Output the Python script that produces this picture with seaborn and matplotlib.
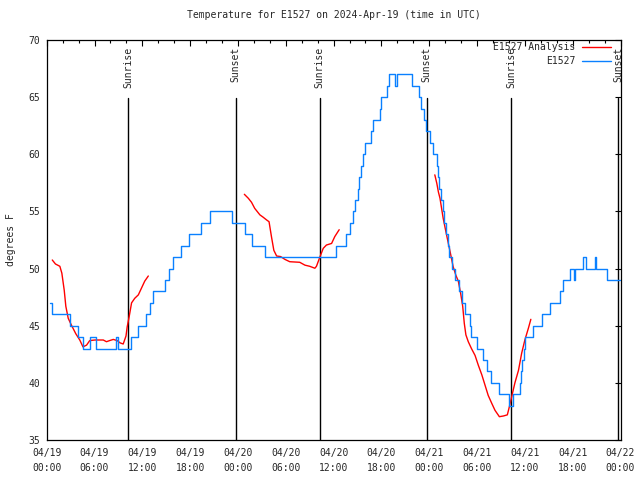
import pandas as pd
import matplotlib
matplotlib.use('Agg')
import matplotlib.pyplot as plt
import seaborn as sns
from matplotlib.lines import Line2D
from matplotlib.ticker import MultipleLocator

sns.set_style("white")
plt.rcParams['font.family'] = ['DejaVu Sans Mono']

TITLE = 'Temperature for E1527 on 2024-Apr-19 (time in UTC)'

# hours since 04/19 00:00 UTC, observed temperature (step changes)
obs_hours = [0.4, 0.65, 2.95, 3.95, 4.6, 5.45, 6.2, 8.7, 8.95, 10.6, 11.5, 12.4, 12.9, 13.4,
             14.9, 15.3, 15.8, 16.8, 17.8, 19.3, 20.5, 23.3, 24.9, 25.7, 27.4, 36.3, 37.55,
             38.1, 38.4, 38.7, 39.0, 39.2, 39.5, 39.7, 39.95, 40.7, 41.0, 41.8, 42.0, 42.7,
             43.0, 43.75, 43.95, 45.85, 46.75, 47.0, 47.3, 47.6, 48.1, 48.5, 48.95, 49.15,
             49.25, 49.45, 49.7, 49.85, 50.1, 50.4, 50.5, 50.8, 51.25, 51.75, 52.1, 52.5,
             53.1, 53.25, 54.0, 54.8, 55.2, 55.8, 56.8, 58.0, 58.45, 59.45, 59.55, 59.7,
             59.85, 60.0, 61.05, 62.2, 63.2, 64.45, 64.8, 65.7, 66.15, 66.35, 67.3, 67.7,
             68.75, 68.95, 70.3, 71.9]
obs_temps = [47, 46, 45, 44, 43, 44, 43, 44, 43, 44, 45, 46, 47, 48,
             49, 50, 51, 52, 53, 54, 55, 54, 53, 52, 51, 52, 53,
             54, 55, 56, 57, 58, 59, 60, 61, 62, 63, 64, 65, 66,
             67, 66, 67, 66, 65, 64, 63, 62, 61, 60, 59, 58,
             57, 56, 55, 54, 53, 52, 51, 50, 49, 48, 47, 46,
             45, 44, 43, 42, 41, 40, 39, 38, 39, 40, 41, 42,
             43, 44, 45, 46, 47, 48, 49, 50, 49, 50, 51, 50,
             51, 50, 49, 49]

# analysis runs (three separate segments)
ana1_hours = [0.7, 1.1, 1.65, 1.9, 2.2, 2.4, 2.7, 3.1, 3.65, 4.15, 4.55, 5.0, 5.4, 6.05,
              7.1, 7.5, 7.9, 8.35, 8.85, 9.2, 9.6, 9.95, 10.1, 10.35, 10.65, 11.05, 11.5,
              11.9, 12.3, 12.75]
ana1_temps = [50.75, 50.4, 50.2, 49.6, 48.1, 46.7, 45.65, 45.05, 44.3, 43.75, 43.15, 43.3,
              43.7, 43.75, 43.75, 43.6, 43.7, 43.8, 43.7, 43.5, 43.4, 44.1, 44.9, 45.8,
              47.0, 47.4, 47.7, 48.3, 48.9, 49.35]
ana2_hours = [24.8, 25.3, 25.7, 26.1, 26.75, 27.15, 27.6, 27.9, 28.2, 28.5, 28.85, 29.35,
              29.9, 30.5, 31.75, 32.4, 33.0, 33.65, 33.85, 34.3, 34.7, 35.1, 35.75, 36.15,
              36.7]
ana2_temps = [56.5, 56.15, 55.8, 55.27, 54.7, 54.5, 54.25, 54.1, 52.8, 51.6, 51.1, 51.05,
              50.8, 50.6, 50.55, 50.3, 50.2, 50.03, 50.2, 51.05, 51.77, 52.06, 52.2, 52.8,
              53.4]
ana3_hours = [48.7, 48.95, 49.15, 49.35, 49.55, 49.75, 50.1, 50.4, 50.7, 51.0, 51.35, 51.65,
              51.95, 52.2, 52.4, 52.6, 52.9, 53.3, 53.75, 54.15, 54.6, 55.0, 55.4, 55.85,
              56.25, 56.8, 57.3, 57.8, 58.05, 58.35, 58.75, 59.2, 59.6, 60.0, 60.45, 60.75]
ana3_temps = [58.2, 57.46, 56.7, 56.15, 55.27, 54.4, 53.2, 52.2, 51.2, 50.17, 49.4, 48.9,
              47.8, 46.7, 45.2, 44.2, 43.6, 43.0, 42.4, 41.56, 40.7, 39.8, 38.9, 38.2,
              37.6, 37.04, 37.1, 37.2, 37.9, 38.8, 40.0, 41.1, 42.6, 43.75, 44.8, 45.56]

sun_hours = [10.25, 23.7, 34.25, 47.7, 58.25, 71.7]
sun_labels = ['Sunrise', 'Sunset', 'Sunrise', 'Sunset', 'Sunrise', 'Sunset']

xtick_hours = list(range(0, 73, 6))
xtick_labels = ['04/19\n00:00', '04/19\n06:00', '04/19\n12:00', '04/19\n18:00',
                '04/20\n00:00', '04/20\n06:00', '04/20\n12:00', '04/20\n18:00',
                '04/21\n00:00', '04/21\n06:00', '04/21\n12:00', '04/21\n18:00',
                '04/22\n00:00']

RED = '#ff0000'
BLUE = '#0a80ff'
FS = 7

obs = pd.DataFrame({'hour': obs_hours, 'temp': obs_temps})
ana = pd.concat([
    pd.DataFrame({'hour': ana1_hours, 'temp': ana1_temps, 'seg': 1}),
    pd.DataFrame({'hour': ana2_hours, 'temp': ana2_temps, 'seg': 2}),
    pd.DataFrame({'hour': ana3_hours, 'temp': ana3_temps, 'seg': 3}),
])

fig = plt.figure(figsize=(6.4, 4.8), dpi=100)
ax = fig.add_axes([46.7 / 640, 40 / 480, (620.5 - 46.7) / 640, 400 / 480])

# sunrise / sunset markers
for h, lab in zip(sun_hours, sun_labels):
    ax.axvline(h, ymin=0, ymax=(440 - 98) / 400, color='black', lw=1.0, zorder=1)
    ax.text(h, (440 - 47) / 400, lab, rotation=90, ha='center', va='top',
            fontsize=FS, transform=ax.get_xaxis_transform())

sns.lineplot(data=ana, x='hour', y='temp', units='seg', estimator=None, sort=False,
             color=RED, lw=1.0, ax=ax, zorder=2)
sns.lineplot(data=obs, x='hour', y='temp', estimator=None, sort=False,
             drawstyle='steps-post', color=BLUE, lw=1.0, ax=ax, zorder=3)

ax.set_xlim(0, 72)
ax.set_ylim(35, 70)
ax.set_xticks(xtick_hours)
ax.set_xticklabels(xtick_labels, fontsize=FS, linespacing=1.6)
ax.xaxis.set_minor_locator(MultipleLocator(2))
ax.yaxis.set_major_locator(MultipleLocator(5))
ax.tick_params(axis='both', which='both', direction='in', top=True, right=True,
               labelsize=FS, color='black', width=0.8)
ax.tick_params(axis='both', which='major', length=4.5)
ax.tick_params(axis='both', which='minor', length=2.5)
ax.tick_params(axis='x', which='major', pad=6)
ax.tick_params(axis='y', which='major', pad=5)
for s in ax.spines.values():
    s.set_color('black')
    s.set_linewidth(0.9)

ax.set_xlabel('')
ax.set_ylabel('degrees F', fontsize=FS)
ax.yaxis.set_label_coords(-0.053, 0.5)
ax.set_title(TITLE, fontsize=FS, pad=16)

handles = [Line2D([], [], color=RED, lw=1.0), Line2D([], [], color=BLUE, lw=1.0)]
ax.legend(handles, ['E1527 Analysis', 'E1527'], loc='upper right',
          bbox_to_anchor=((611 - 46.7) / 573.8, (440 - 42) / 400), frameon=False,
          markerfirst=False, fontsize=FS, handlelength=3.0, handletextpad=0.7,
          labelspacing=0.45, borderpad=0, borderaxespad=0)

fig.savefig('out.png', dpi=100)
